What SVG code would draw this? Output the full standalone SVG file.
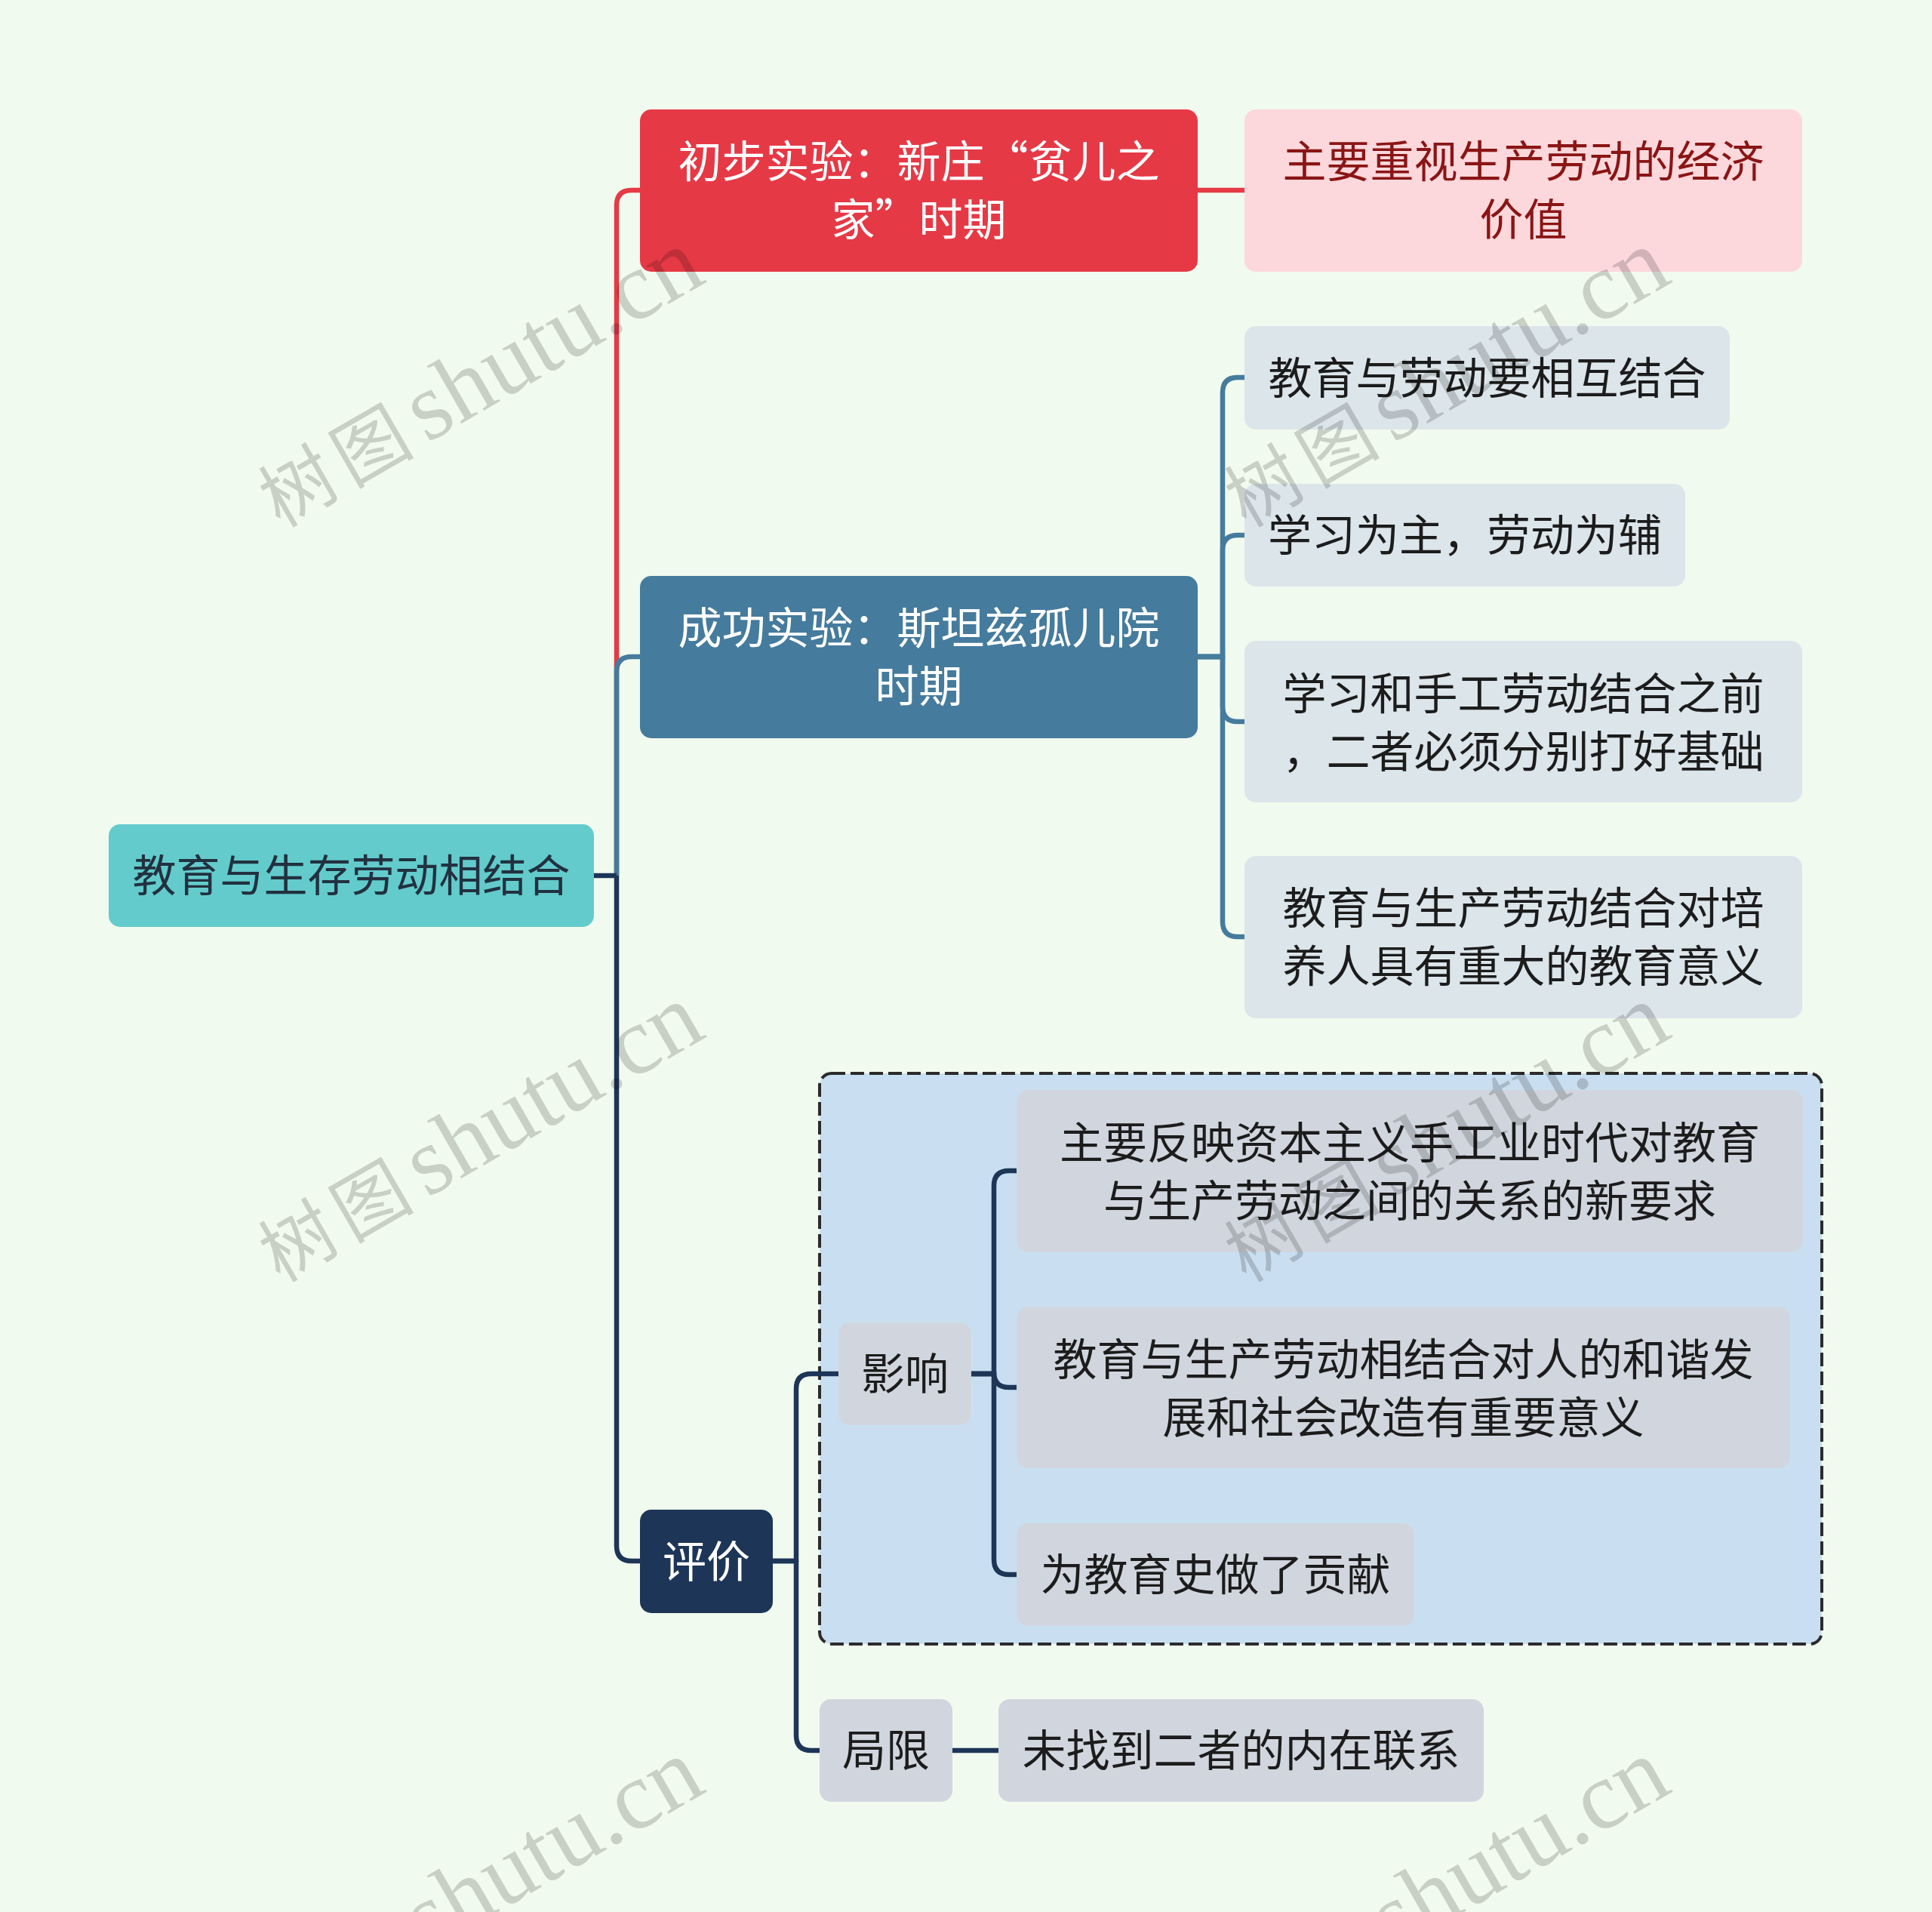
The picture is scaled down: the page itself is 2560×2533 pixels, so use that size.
<svg xmlns="http://www.w3.org/2000/svg" width="2560" height="2533" viewBox="0 0 2560 2533">
<style>
.t{font-family:'Noto Sans CJK SC','Noto Sans',sans-serif;font-size:58px;text-anchor:middle}
.wt{fill:#ffffff}
.dk{fill:#1c1c1c}
.pk{fill:#8a1515}
.rt{fill:#22313f}
.c{fill:none;stroke-width:6.5;stroke-linejoin:round}
.cr{stroke:#E63946}
.cb{stroke:#457B9D}
.cn{stroke:#1D3557}
.wm{fill:#000;fill-opacity:0.17}
.wc{font-family:'Noto Sans CJK SC',serif;font-size:98px;letter-spacing:12px}
.wl{font-family:'Liberation Serif',serif;font-size:128px}
</style>
<defs>
<g id="wmark">
<text class="wm"><tspan class="wc" x="0" y="0">树图</tspan><tspan class="wl" x="225" y="0">shutu.cn</tspan></text>
</g>
</defs>
<rect x="0" y="0" width="2560" height="2533" fill="#F1FAEE"/>

<g id="group-box">
<rect x="1086" y="1422" width="1328" height="756" rx="16" fill="#C9DFF1" stroke="#2b2b2b" stroke-width="4" stroke-dasharray="18 7"/>
</g>

<g id="connectors">
<path class="c cr" d="M817,1160 V272 Q817,252 837,252 H848"/>
<path class="c cb" d="M817,1160 V890 Q817,870 837,870 H848"/>
<path class="c cn" d="M817,1160 V2048 Q817,2068 837,2068 H848"/>
<path class="c cn" d="M787,1160 H817"/>
<path class="c cr" d="M1587,252 H1649"/>
<path class="c cb" d="M1587,870 H1620 V520 Q1620,500 1640,500 H1649"/>
<path class="c cb" d="M1587,870 H1620 V729 Q1620,709 1640,709 H1649"/>
<path class="c cb" d="M1587,870 H1620 V936 Q1620,956 1640,956 H1649"/>
<path class="c cb" d="M1587,870 H1620 V1221 Q1620,1241 1640,1241 H1649"/>
<path class="c cn" d="M1024,2068 H1055 V1840 Q1055,1820 1075,1820 H1111"/>
<path class="c cn" d="M1024,2068 H1055 V2299 Q1055,2319 1075,2319 H1086"/>
<path class="c cn" d="M1287,1820 H1317 V1571 Q1317,1551 1337,1551 H1347"/>
<path class="c cn" d="M1287,1820 H1317 V1818 Q1317,1838 1337,1838 H1347"/>
<path class="c cn" d="M1287,1820 H1317 V2066 Q1317,2086 1337,2086 H1347"/>
<path class="c cn" d="M1262,2319 H1323"/>
</g>

<g id="node-root">
<rect x="144" y="1092" width="643" height="136" rx="15" fill="#63CBCC"/>
<text class="t rt" x="465.5" y="1181">教育与生存劳动相结合</text>
</g>

<g id="node-early">
<rect x="848" y="145" width="739" height="215" rx="15" fill="#E63946"/>
<text class="t wt" x="1217.5" y="235">初步实验：新庄“贫儿之</text>
<text class="t wt" x="1217.5" y="312">家”时期</text>
</g>

<g id="node-economic">
<rect x="1649" y="145" width="739" height="215" rx="15" fill="#FCD8DC"/>
<text class="t pk" x="2018.5" y="235">主要重视生产劳动的经济</text>
<text class="t pk" x="2018.5" y="312">价值</text>
</g>

<g id="node-success">
<rect x="848" y="763" width="739" height="215" rx="15" fill="#457B9D"/>
<text class="t wt" x="1217.5" y="853">成功实验：斯坦兹孤儿院</text>
<text class="t wt" x="1217.5" y="930">时期</text>
</g>

<g id="node-s1">
<rect x="1649" y="432" width="643" height="137" rx="15" fill="#DCE5EA"/>
<text class="t dk" x="1970.5" y="522">教育与劳动要相互结合</text>
</g>

<g id="node-s2">
<rect x="1649" y="641" width="584" height="136" rx="15" fill="#DCE5EA"/>
<text class="t dk" x="1941" y="730">学习为主，劳动为辅</text>
</g>

<g id="node-s3">
<rect x="1649" y="849" width="739" height="214" rx="15" fill="#DCE5EA"/>
<text class="t dk" x="2018.5" y="940">学习和手工劳动结合之前</text>
<text class="t dk" x="2018.5" y="1017">，二者必须分别打好基础</text>
</g>

<g id="node-s4">
<rect x="1649" y="1134" width="739" height="215" rx="15" fill="#DCE5EA"/>
<text class="t dk" x="2018.5" y="1224">教育与生产劳动结合对培</text>
<text class="t dk" x="2018.5" y="1301">养人具有重大的教育意义</text>
</g>

<g id="node-eval">
<rect x="848" y="2000" width="176" height="137" rx="15" fill="#1D3557"/>
<text class="t wt" x="936" y="2090">评价</text>
</g>

<g id="node-influence">
<rect x="1111" y="1752" width="176" height="136" rx="15" fill="#D1D6DE"/>
<text class="t dk" x="1199" y="1841">影响</text>
</g>

<g id="node-i1">
<rect x="1347" y="1444" width="1042" height="215" rx="15" fill="#D1D6DE"/>
<text class="t dk" x="1868" y="1535">主要反映资本主义手工业时代对教育</text>
<text class="t dk" x="1868" y="1612">与生产劳动之间的关系的新要求</text>
</g>

<g id="node-i2">
<rect x="1347" y="1731" width="1025" height="214" rx="15" fill="#D1D6DE"/>
<text class="t dk" x="1859.5" y="1822">教育与生产劳动相结合对人的和谐发</text>
<text class="t dk" x="1859.5" y="1899">展和社会改造有重要意义</text>
</g>

<g id="node-i3">
<rect x="1347" y="2018" width="527" height="136" rx="15" fill="#D1D6DE"/>
<text class="t dk" x="1610.5" y="2107">为教育史做了贡献</text>
</g>

<g id="node-limit">
<rect x="1086" y="2251" width="176" height="136" rx="15" fill="#D1D6DE"/>
<text class="t dk" x="1174" y="2340">局限</text>
</g>

<g id="node-l1">
<rect x="1323" y="2251" width="643" height="136" rx="15" fill="#D1D6DE"/>
<text class="t dk" x="1644.5" y="2340">未找到二者的内在联系</text>
</g>

<g id="watermarks">
<use href="#wmark" transform="translate(371,700) rotate(-30)"/>
<use href="#wmark" transform="translate(1651,700) rotate(-30)"/>
<use href="#wmark" transform="translate(371,1700) rotate(-30)"/>
<use href="#wmark" transform="translate(1651,1700) rotate(-30)"/>
<use href="#wmark" transform="translate(371,2700) rotate(-30)"/>
<use href="#wmark" transform="translate(1651,2700) rotate(-30)"/>
</g>
</svg>
